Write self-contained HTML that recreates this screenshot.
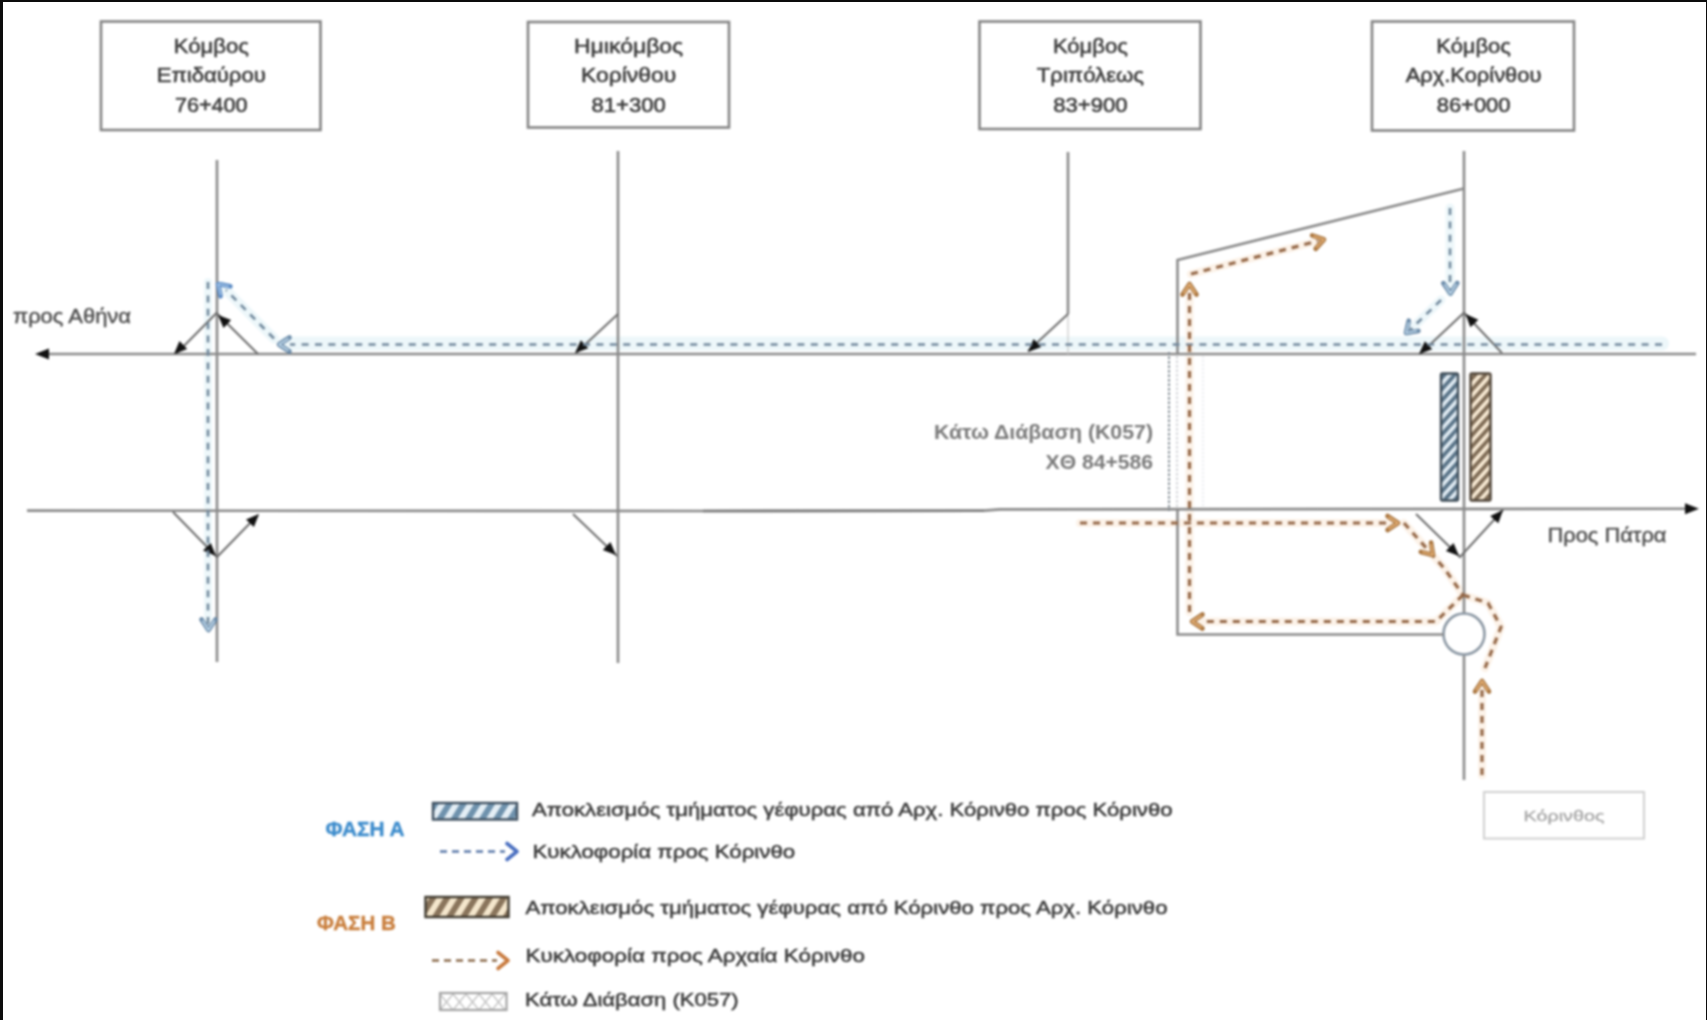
<!DOCTYPE html>
<html><head><meta charset="utf-8">
<style>
html,body{margin:0;padding:0;background:#fff;width:1707px;height:1020px;overflow:hidden}
svg{display:block;position:absolute;left:0;top:0;filter:blur(0.8px)}
text{font-family:"Liberation Sans",sans-serif}
</style></head>
<body>
<svg width="1707" height="1020" viewBox="0 0 1707 1020">
<defs>
  <pattern id="hatchB" patternUnits="userSpaceOnUse" width="7.6" height="7.6" patternTransform="rotate(42)">
    <rect width="7.6" height="7.6" fill="#dfeaf2"/>
    <rect width="3.8" height="7.6" fill="#5a7488"/>
  </pattern>
  <pattern id="hatchO" patternUnits="userSpaceOnUse" width="7.6" height="7.6" patternTransform="rotate(42)">
    <rect width="7.6" height="7.6" fill="#f6e8d2"/>
    <rect width="3.8" height="7.6" fill="#7f6c56"/>
  </pattern>
  <pattern id="hatchBL" patternUnits="userSpaceOnUse" width="12" height="12" patternTransform="rotate(32)">
    <rect width="12" height="12" fill="#e4eef5"/>
    <rect width="6" height="12" fill="#6f92ad"/>
  </pattern>
  <pattern id="hatchOL" patternUnits="userSpaceOnUse" width="12" height="12" patternTransform="rotate(32)">
    <rect width="12" height="12" fill="#f4e6cc"/>
    <rect width="6" height="12" fill="#8a755c"/>
  </pattern>
  <pattern id="dots" patternUnits="userSpaceOnUse" x="440" y="994" width="13" height="16">
    <rect width="13" height="16" fill="#fff"/>
    <path d="M0,0 L13,16 M13,0 L0,16" stroke="#bdbdbd" stroke-width="1.3"/>
  </pattern>
</defs>
<rect x="0" y="0" width="1707" height="1020" fill="#fff"/>

<g fill="none" stroke="#848484" stroke-width="2.6">
<rect x="101" y="21.5" width="219.5" height="108.5"/>
<rect x="528" y="22" width="201" height="105.5"/>
<rect x="979.5" y="21.5" width="221" height="107.5"/>
<rect x="1372" y="21.5" width="202" height="109"/>
</g>
<g fill="#3c3c3c" stroke="#3c3c3c" stroke-width="0.55" font-size="20.5" text-anchor="middle">
<text x="211.3" y="53" textLength="75" lengthAdjust="spacingAndGlyphs">Κόμβος</text>
<text x="211.3" y="82" textLength="109.2" lengthAdjust="spacingAndGlyphs">Επιδαύρου</text>
<text x="211.3" y="111.5" textLength="72.7" lengthAdjust="spacingAndGlyphs">76+400</text>
<text x="628.6" y="53" textLength="109.2" lengthAdjust="spacingAndGlyphs">Ημικόμβος</text>
<text x="628.6" y="82" textLength="95.1" lengthAdjust="spacingAndGlyphs">Κορίνθου</text>
<text x="628.6" y="111.5" textLength="74.3" lengthAdjust="spacingAndGlyphs">81+300</text>
<text x="1090.4" y="53" textLength="75" lengthAdjust="spacingAndGlyphs">Κόμβος</text>
<text x="1090.4" y="82" textLength="107.2" lengthAdjust="spacingAndGlyphs">Τριπόλεως</text>
<text x="1090.4" y="111.5" textLength="74.3" lengthAdjust="spacingAndGlyphs">83+900</text>
<text x="1473.6" y="53" textLength="74.6" lengthAdjust="spacingAndGlyphs">Κόμβος</text>
<text x="1473.6" y="82" textLength="135.7" lengthAdjust="spacingAndGlyphs">Αρχ.Κορίνθου</text>
<text x="1473.6" y="111.5" textLength="73.8" lengthAdjust="spacingAndGlyphs">86+000</text>
</g>
<g stroke="#edf7fa" fill="none" stroke-linecap="round">
<line x1="1662" y1="343.5" x2="285" y2="343.5" stroke-width="14"/><line x1="274" y1="338.5" x2="222" y2="286" stroke-width="10"/><line x1="208" y1="282" x2="208" y2="628" stroke-width="8"/><line x1="1450" y1="208" x2="1450" y2="292" stroke-width="9"/><line x1="1441" y1="300" x2="1408" y2="332" stroke-width="9"/>
</g>
<g stroke="#fcf2e8" stroke-width="8" fill="none" stroke-linecap="round" stroke-linejoin="round">
<polyline points="1189.5,612 1189.5,288"/><polyline points="1191,274 1322,240"/><polyline points="1080,523 1396,523"/><polyline points="1404,523 1444,568 1463,595"/><polyline points="1463,595 1436,621.5 1196,621.5"/><polyline points="1463,595 1488,603 1501,627 1485,668"/><polyline points="1482,775 1482,684"/>
</g>
<g stroke="#8a8a8a" stroke-width="2.6" fill="none">
<line x1="45" y1="354" x2="1696" y2="354"/>
<polyline points="27,510.6 703,511 984,510.6 1000,509.4 1688,508.7"/>
<line x1="217" y1="160" x2="217" y2="662"/>
<line x1="618" y1="151" x2="618" y2="663"/>
<line x1="1068" y1="152" x2="1068" y2="314"/>
<line x1="1464" y1="151" x2="1464" y2="613.5"/>
<line x1="1464" y1="654.5" x2="1464" y2="780"/>
</g>
<circle cx="1464" cy="634" r="20.5" stroke="#8c98a4" stroke-width="2.6" fill="none"/>
<polyline points="1464,188.5 1177.5,260 1177.5,354" stroke="#8a8a8a" stroke-width="2.6" fill="none"/>
<polyline points="1177.5,509.5 1177.5,634.5 1443.5,634.5" stroke="#8a8a8a" stroke-width="2.6" fill="none"/>
<line x1="1068" y1="314" x2="1068" y2="354" stroke="#c8c8c8" stroke-width="1.2"/>
<g stroke="#6e6e6e" stroke-width="2" fill="none">
<polyline points="176,354 216.5,313 258,354"/>
<polyline points="173,512 217,557 258,515"/>
<line x1="576" y1="353" x2="618" y2="314"/>
<line x1="573" y1="514" x2="617" y2="556"/>
<line x1="1028" y1="351" x2="1068" y2="314"/>
<polyline points="1420,354 1464,312.7 1502,353"/>
<polyline points="1416,514 1460,557 1503,510"/>
</g>
<polygon points="35.0,354.0 49.0,348.5 49.0,359.5" fill="#111"/>
<polygon points="1699.0,508.7 1685.0,514.2 1685.0,503.2" fill="#111"/>
<line x1="703" y1="511" x2="984" y2="510.8" stroke="#7a7a7a" stroke-width="2.6"/>
<polygon points="174.0,354.0 179.5,341.0 187.2,348.9" fill="#111"/>
<polygon points="218.0,315.0 231.1,320.1 223.5,328.0" fill="#111"/>
<polygon points="216.0,556.0 203.0,550.5 210.8,542.9" fill="#111"/>
<polygon points="259.0,514.0 253.9,527.1 246.0,519.5" fill="#111"/>
<polygon points="575.0,353.0 580.9,340.2 588.3,348.3" fill="#111"/>
<polygon points="616.0,555.0 602.8,550.0 610.4,542.0" fill="#111"/>
<polygon points="1028.0,352.0 1033.6,339.1 1041.2,347.0" fill="#111"/>
<polygon points="1419.0,354.0 1424.9,341.2 1432.3,349.3" fill="#111"/>
<polygon points="1465.5,314.0 1478.4,319.7 1470.4,327.2" fill="#111"/>
<polygon points="1459.0,556.0 1445.9,550.9 1453.5,543.0" fill="#111"/>
<polygon points="1503.0,510.0 1498.3,523.3 1490.2,515.9" fill="#111"/>
<g fill="#505050" stroke="#505050" stroke-width="0.45" font-size="20">
<text x="13" y="323" textLength="118" lengthAdjust="spacingAndGlyphs">προς Αθήνα</text>
<text x="1547.5" y="542" textLength="119" lengthAdjust="spacingAndGlyphs">Προς Πάτρα</text>
</g>
<g fill="#7a7a7a" font-size="20" font-weight="bold" text-anchor="end">
<text x="1153" y="439" textLength="219" lengthAdjust="spacingAndGlyphs">Κάτω Διάβαση (Κ057)</text>
<text x="1153" y="469" textLength="107.4" lengthAdjust="spacingAndGlyphs">ΧΘ 84+586</text>
</g>
<line x1="1169" y1="352" x2="1169" y2="511" stroke="#7f8890" stroke-width="2" stroke-dasharray="2.5 2"/>
<line x1="1177" y1="356" x2="1177" y2="508" stroke="#c4c8cc" stroke-width="1.5" stroke-dasharray="2.5 2"/>
<line x1="1203" y1="356" x2="1203" y2="508" stroke="#dde2e8" stroke-width="1.2" stroke-dasharray="2 2"/>
<rect x="1441" y="373.5" width="17" height="127" rx="1.5" fill="url(#hatchB)" stroke="#3f4d58" stroke-width="2.4"/>
<rect x="1470.5" y="373.5" width="20" height="127" rx="1.5" fill="url(#hatchO)" stroke="#4f4438" stroke-width="2.4"/>
<g stroke="#71889c" stroke-width="2.6" fill="none" stroke-dasharray="7 6.4">
<line x1="1662" y1="344.5" x2="290" y2="344.5"/>
<line x1="274" y1="338.5" x2="226" y2="290"/>
<line x1="208" y1="282" x2="208" y2="625"/>
<line x1="1450" y1="208" x2="1450" y2="290"/>
<line x1="1441" y1="300" x2="1410" y2="330"/>
</g>
<polyline points="289.5,337.5 279.0,344.5 289.5,351.5" stroke="#6a8aa8" stroke-width="4.6" fill="none" stroke-linecap="round" stroke-linejoin="round"/><polyline points="288.0,338.8 279.0,344.5 288.0,350.2" stroke="#c4dcee" stroke-width="1.6" fill="none" stroke-linecap="round" stroke-linejoin="round"/>
<polyline points="230.4,286.3 218.0,284.0 220.6,296.3" stroke="#5a8ac4" stroke-width="4.6" fill="none" stroke-linecap="round" stroke-linejoin="round"/><polyline points="228.4,286.2 218.0,284.0 220.5,294.4" stroke="#a8c8ea" stroke-width="1.6" fill="none" stroke-linecap="round" stroke-linejoin="round"/>
<polyline points="201.5,619.5 208.5,630.0 215.5,619.5" stroke="#6a8aa8" stroke-width="4.6" fill="none" stroke-linecap="round" stroke-linejoin="round"/><polyline points="202.8,621.0 208.5,630.0 214.2,621.0" stroke="#c4dcee" stroke-width="1.6" fill="none" stroke-linecap="round" stroke-linejoin="round"/>
<polyline points="1443.3,283.1 1450.5,293.5 1457.3,282.9" stroke="#6a8aa8" stroke-width="4.6" fill="none" stroke-linecap="round" stroke-linejoin="round"/><polyline points="1444.7,284.6 1450.5,293.5 1456.1,284.4" stroke="#c4dcee" stroke-width="1.6" fill="none" stroke-linecap="round" stroke-linejoin="round"/>
<polyline points="1408.8,320.7 1406.0,333.0 1418.4,330.9" stroke="#6a8aa8" stroke-width="4.6" fill="none" stroke-linecap="round" stroke-linejoin="round"/><polyline points="1408.6,322.7 1406.0,333.0 1416.5,331.0" stroke="#c4dcee" stroke-width="1.6" fill="none" stroke-linecap="round" stroke-linejoin="round"/>
<g stroke="#946848" stroke-width="3.2" fill="none" stroke-dasharray="7 6">
<line x1="1189.5" y1="612" x2="1189.5" y2="292"/>
<line x1="1191" y1="274" x2="1318" y2="241"/>
<line x1="1080" y1="523" x2="1390" y2="523"/>
<polyline points="1404,523 1444,568 1463,595"/>
<polyline points="1463,595 1436,621.5 1202,621.5"/>
<polyline points="1463,595 1488,603 1501,627 1485,668"/>
<line x1="1482" y1="775" x2="1482" y2="690"/>
</g>
<polyline points="1196.5,294.5 1189.5,284.0 1182.5,294.5" stroke="#a8743e" stroke-width="4.6" fill="none" stroke-linecap="round" stroke-linejoin="round"/><polyline points="1195.2,293.0 1189.5,284.0 1183.8,293.0" stroke="#e8b47a" stroke-width="1.6" fill="none" stroke-linecap="round" stroke-linejoin="round"/>
<polyline points="1315.6,248.9 1324.0,239.5 1312.1,235.4" stroke="#a8743e" stroke-width="4.6" fill="none" stroke-linecap="round" stroke-linejoin="round"/><polyline points="1316.7,247.3 1324.0,239.5 1313.9,236.2" stroke="#e8b47a" stroke-width="1.6" fill="none" stroke-linecap="round" stroke-linejoin="round"/>
<polyline points="1387.5,530.0 1398.0,523.0 1387.5,516.0" stroke="#a8743e" stroke-width="4.6" fill="none" stroke-linecap="round" stroke-linejoin="round"/><polyline points="1389.0,528.7 1398.0,523.0 1389.0,517.3" stroke="#e8b47a" stroke-width="1.6" fill="none" stroke-linecap="round" stroke-linejoin="round"/>
<polyline points="1420.8,551.9 1433.0,555.0 1431.1,542.5" stroke="#a8743e" stroke-width="4.6" fill="none" stroke-linecap="round" stroke-linejoin="round"/><polyline points="1422.7,552.2 1433.0,555.0 1431.2,544.5" stroke="#e8b47a" stroke-width="1.6" fill="none" stroke-linecap="round" stroke-linejoin="round"/>
<polyline points="1202.5,614.5 1192.0,621.5 1202.5,628.5" stroke="#a8743e" stroke-width="4.6" fill="none" stroke-linecap="round" stroke-linejoin="round"/><polyline points="1201.0,615.8 1192.0,621.5 1201.0,627.2" stroke="#e8b47a" stroke-width="1.6" fill="none" stroke-linecap="round" stroke-linejoin="round"/>
<polyline points="1489.0,691.5 1482.0,681.0 1475.0,691.5" stroke="#a8743e" stroke-width="4.6" fill="none" stroke-linecap="round" stroke-linejoin="round"/><polyline points="1487.7,690.0 1482.0,681.0 1476.3,690.0" stroke="#e8b47a" stroke-width="1.6" fill="none" stroke-linecap="round" stroke-linejoin="round"/>
<rect x="1484" y="792" width="160" height="46.5" fill="none" stroke="#d0d0d0" stroke-width="2"/>
<text x="1564" y="821" fill="#a4a4a4" stroke="#a4a4a4" stroke-width="0.3" font-size="15.5" text-anchor="middle" textLength="81" lengthAdjust="spacingAndGlyphs">Κόρινθος</text>
<text x="325.5" y="836" fill="#3d8ccc" stroke="#3d8ccc" stroke-width="0.4" font-size="20" font-weight="bold" textLength="79" lengthAdjust="spacingAndGlyphs">ΦΑΣΗ Α</text>
<text x="317" y="929.5" fill="#c97f3e" stroke="#c97f3e" stroke-width="0.4" font-size="20" font-weight="bold" textLength="78.8" lengthAdjust="spacingAndGlyphs">ΦΑΣΗ Β</text>
<rect x="433" y="803" width="84" height="16.5" fill="url(#hatchBL)" stroke="#3f5060" stroke-width="2.4"/>
<rect x="425.5" y="897" width="83" height="20" fill="url(#hatchOL)" stroke="#3f3a30" stroke-width="2.4"/>
<line x1="440" y1="851.5" x2="505" y2="851.5" stroke="#5a78a8" stroke-width="2.6" stroke-dasharray="7 5"/>
<polyline points="507.0,859.5 517.0,851.5 507.0,843.5" stroke="#4a6fc0" stroke-width="3.6" fill="none" stroke-linecap="round" stroke-linejoin="round"/>
<line x1="432" y1="960.5" x2="497" y2="960.5" stroke="#8a6a4a" stroke-width="2.6" stroke-dasharray="7 5"/>
<polyline points="498.0,968.5 508.0,960.5 498.0,952.5" stroke="#c87a3e" stroke-width="3.6" fill="none" stroke-linecap="round" stroke-linejoin="round"/>
<rect x="440" y="993" width="66.5" height="17" fill="url(#dots)" stroke="#a4a4a4" stroke-width="2.2"/>
<g fill="#3a3a3a" stroke="#3a3a3a" stroke-width="0.5" font-size="19">
<text x="532" y="816" textLength="640.5" lengthAdjust="spacingAndGlyphs">Αποκλεισμός τμήματος γέφυρας από Αρχ. Κόρινθο προς Κόρινθο</text>
<text x="532.5" y="858" textLength="262.7" lengthAdjust="spacingAndGlyphs">Κυκλοφορία προς Κόρινθο</text>
<text x="525.5" y="914" textLength="642" lengthAdjust="spacingAndGlyphs">Αποκλεισμός τμήματος γέφυρας από Κόρινθο προς Αρχ. Κόρινθο</text>
<text x="525.5" y="962" textLength="339.4" lengthAdjust="spacingAndGlyphs">Κυκλοφορία προς Αρχαία Κόρινθο</text>
<text x="525" y="1006" textLength="213.6" lengthAdjust="spacingAndGlyphs">Κάτω Διάβαση (Κ057)</text>
</g>
</svg>
<div style="position:absolute;left:0;top:0;width:1707px;height:2px;background:#0c0c0c"></div>
<div style="position:absolute;left:0;top:0;width:3px;height:1020px;background:#0c0c0c"></div>
<div style="position:absolute;left:1705.6px;top:0;width:1.4px;height:1020px;background:#0c0c0c"></div>
</body></html>
